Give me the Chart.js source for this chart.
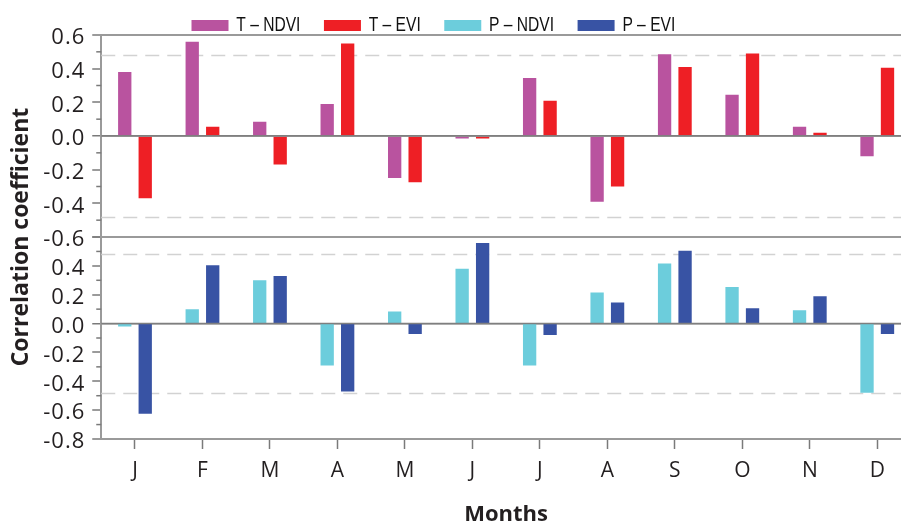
<!DOCTYPE html>
<html>
<head>
<meta charset="utf-8">
<script src="https://cdn.jsdelivr.net/npm/chart.js@4.4.1/dist/chart.umd.min.js"></script>
<style>
html,body{margin:0;padding:0;overflow:hidden;background:#ffffff;}
#wrap{width:920px;height:523px;}
</style>
</head>
<body>
<div id="wrap"><canvas id="c" width="920" height="523"></canvas></div>
<script>
// ---- data ----
const months = ['J','F','M','A','M','J','J','A','S','O','N','D'];
const seriesLabels = ['T – NDVI','T – EVI','P – NDVI','P – EVI'];
const tNdvi = [0.38, 0.56, 0.085, 0.19, -0.25, -0.015, 0.345, -0.39, 0.485, 0.245, 0.055, -0.12];
const tEvi  = [-0.37, 0.055, -0.17, 0.55, -0.275, -0.015, 0.21, -0.30, 0.41, 0.49, 0.02, 0.405];
const pNdvi = [-0.02, 0.10, 0.30, -0.29, 0.083, 0.38, -0.29, 0.215, 0.417, 0.253, 0.093, -0.48];
const pEvi  = [-0.625, 0.405, 0.33, -0.47, -0.072, 0.558, -0.08, 0.146, 0.505, 0.107, 0.19, -0.072];
const significance = [0.48, -0.48];
const topRange = [-0.6, 0.6];
const bottomRange = [-0.8, 0.6];
const xTitle = 'Months';
const yTitle = 'Correlation coefficient';

// ---- styling ----
const colors = ['#B9539F', '#EE1F25', '#6CCDDC', '#3853A4'];
const textColor = '#231F20';
const axisGray = '#9a9a9a';
const tickGray = '#7a7a7a';
const zeroGray = '#7f7f7f';

const isMajor = v => Math.abs(Math.round(v * 10)) % 2 === 0;
const isZero = v => Math.abs(v) < 1e-9;
const fmt = v => (Math.round(v * 10) / 10).toFixed(1);

function gridColor(ctx, edgeVals) {
  const v = ctx.tick.value;
  if (isZero(v)) return zeroGray;
  for (const e of edgeVals) if (Math.abs(v - e) < 1e-9) return axisGray;
  return 'rgba(0,0,0,0)';
}
function gridWidth(ctx, edgeVals) {
  const v = ctx.tick.value;
  if (isZero(v)) return 1.5;
  for (const e of edgeVals) if (Math.abs(v - e) < 1e-9) return 2;
  return 0;
}

const CAT_PCT = 0.607, BAR_PCT = 0.65;
function makeDs(i, data, axis, stack) {
  return {
    label: seriesLabels[i], data, yAxisID: axis, stack,
    backgroundColor: colors[i], borderWidth: 0,
    categoryPercentage: CAT_PCT, barPercentage: BAR_PCT
  };
}

// legend geometry (drawn horizontally condensed to mimic a narrow typeface)
const LEG_SX = 0.78;
const LEG_FONT = 20;
const LEG_PAD = 23.5 / LEG_SX;
const LEG_BOX_W = 37 / LEG_SX;
const LEG_BOX_H = 11;
const LEG_HEIGHT = Math.max(LEG_FONT, LEG_BOX_H) + LEG_PAD + 10;
const PLOT_TOP = 35;
const LEGEND_FIRST_X = 191.5;
const LEGEND_BOX_TOP = 18;

function wrapOnce(obj, key, before, after) {
  const flag = '_wrapped_' + key;
  if (obj[flag]) return;
  const orig = obj[key].bind(obj);
  obj[key] = function (arg) { before(); orig(arg); after(); };
  obj[flag] = true;
}

const extras = {
  id: 'extras',
  afterLayout(chart) {
    const c = chart.ctx;
    const lg = chart.legend;
    if (lg) {
      const pad = lg.options.labels.padding;
      const wantLeft = LEGEND_FIRST_X / LEG_SX - pad;
      const dx = wantLeft - lg.left;
      lg.left += dx; lg.right += dx;
      const wantTop = LEGEND_BOX_TOP - pad - (Math.max(LEG_FONT, LEG_BOX_H) - LEG_BOX_H) / 2 + 2;
      const dy = wantTop - lg.top;
      lg.top += dy; lg.bottom += dy;
      wrapOnce(lg, 'draw', () => { c.save(); c.scale(LEG_SX, 1); }, () => c.restore());
    }
    for (const id of ['yT', 'yB']) {
      const s = chart.scales[id];
      wrapOnce(s, 'drawLabels', () => { c.save(); c.letterSpacing = '1px'; }, () => c.restore());
    }
  },
  beforeDatasetsDraw(chart) {
    const {ctx, chartArea} = chart;
    ctx.save();
    ctx.strokeStyle = '#d2d2d2';
    ctx.lineWidth = 1.5;
    ctx.setLineDash([14, 8]);
    for (const id of ['yT', 'yB']) {
      const s = chart.scales[id];
      for (const v of significance) {
        const y = Math.round(s.getPixelForValue(v)) + 0.5;
        ctx.beginPath();
        ctx.moveTo(chartArea.left, y);
        ctx.lineTo(chartArea.right, y);
        ctx.stroke();
      }
    }
    ctx.setLineDash([]);
    ctx.strokeStyle = tickGray;
    ctx.lineWidth = 1.5;
    for (const id of ['yT', 'yB']) {
      const s = chart.scales[id];
      for (const t of s.ticks) {
        if (isMajor(t.value)) continue;
        const y = s.getPixelForValue(t.value);
        ctx.beginPath();
        ctx.moveTo(chartArea.left - 5, y);
        ctx.lineTo(chartArea.left, y);
        ctx.stroke();
      }
    }
    ctx.restore();
  },
  afterDatasetsDraw(chart) {
    const {ctx, chartArea} = chart;
    ctx.save();
    ctx.strokeStyle = zeroGray;
    ctx.lineWidth = 1.5;
    for (const id of ['yT', 'yB']) {
      const y = chart.scales[id].getPixelForValue(0);
      ctx.beginPath();
      ctx.moveTo(chartArea.left, y);
      ctx.lineTo(chartArea.right, y);
      ctx.stroke();
    }
    ctx.restore();
  }
};

const tickFont = {family: "'Open Sans', sans-serif", size: 22};
const xTickFont = {family: "'Open Sans', sans-serif", size: 21};
const titleFont = {family: "'Open Sans', sans-serif", size: 23, weight: 'bold'};

function yPanel(range, hideTop) {
  return {
    type: 'linear', position: 'left', stack: 'panels', stackWeight: 1, stacked: false,
    min: range[0], max: range[1],
    ticks: {
      stepSize: 0.1, autoSkip: false, color: textColor, font: tickFont, padding: 7, labelOffset: 3,
      callback: v => {
        if (!isMajor(v)) return '';
        if (hideTop && Math.abs(v - range[1]) < 1e-9) return '';
        return fmt(v);
      }
    },
    grid: {
      color: ctx => gridColor(ctx, range),
      lineWidth: ctx => gridWidth(ctx, range),
      tickLength: 9,
      tickColor: ctx => isMajor(ctx.tick.value) ? tickGray : 'rgba(0,0,0,0)',
      tickWidth: 1.5
    },
    border: {display: true, color: axisGray, width: 2},
    afterFit: s => { s.width = 65.25; }
  };
}

new Chart(document.getElementById('c'), {
  type: 'bar',
  data: {
    labels: months,
    datasets: [
      makeDs(0, tNdvi, 'yT', 'ndvi'),
      makeDs(1, tEvi, 'yT', 'evi'),
      makeDs(2, pNdvi, 'yB', 'ndvi'),
      makeDs(3, pEvi, 'yB', 'evi')
    ]
  },
  options: {
    responsive: false,
    animation: false,
    devicePixelRatio: 1,
    layout: {padding: {top: PLOT_TOP - LEG_HEIGHT, right: 9, left: 0, bottom: 0}},
    plugins: {
      legend: {
        position: 'top', align: 'start',
        labels: {
          boxWidth: LEG_BOX_W, boxHeight: LEG_BOX_H, padding: LEG_PAD, color: '#111',
          font: {family: "'Liberation Sans', Arial, sans-serif", size: LEG_FONT}
        }
      },
      tooltip: {enabled: false}
    },
    scales: {
      x: {
        type: 'category', offset: true,
        grid: {offset: false, drawOnChartArea: false, tickLength: 10, tickColor: tickGray, tickWidth: 1.5},
        border: {display: true, color: axisGray, width: 2},
        ticks: {color: textColor, font: xTickFont, padding: 9, autoSkip: false, maxRotation: 0},
        title: {display: true, text: xTitle, color: textColor, font: {family: "'Open Sans', sans-serif", size: 22, weight: 'bold', lineHeight: 0.75}, padding: {top: 0, bottom: 0}},
        afterFit: s => { s.height = 84; }
      },
      yB: yPanel(bottomRange, true),
      yT: yPanel(topRange, false),
      yTitle: {
        type: 'linear', position: 'left', display: true, weight: 10,
        grid: {display: false}, border: {display: false}, ticks: {display: false},
        title: {display: true, text: yTitle, color: textColor, font: titleFont, padding: {top: 8, bottom: 0}},
        afterFit: s => { s.width = 36; }
      }
    }
  },
  plugins: [extras]
});
</script>
</body>
</html>
